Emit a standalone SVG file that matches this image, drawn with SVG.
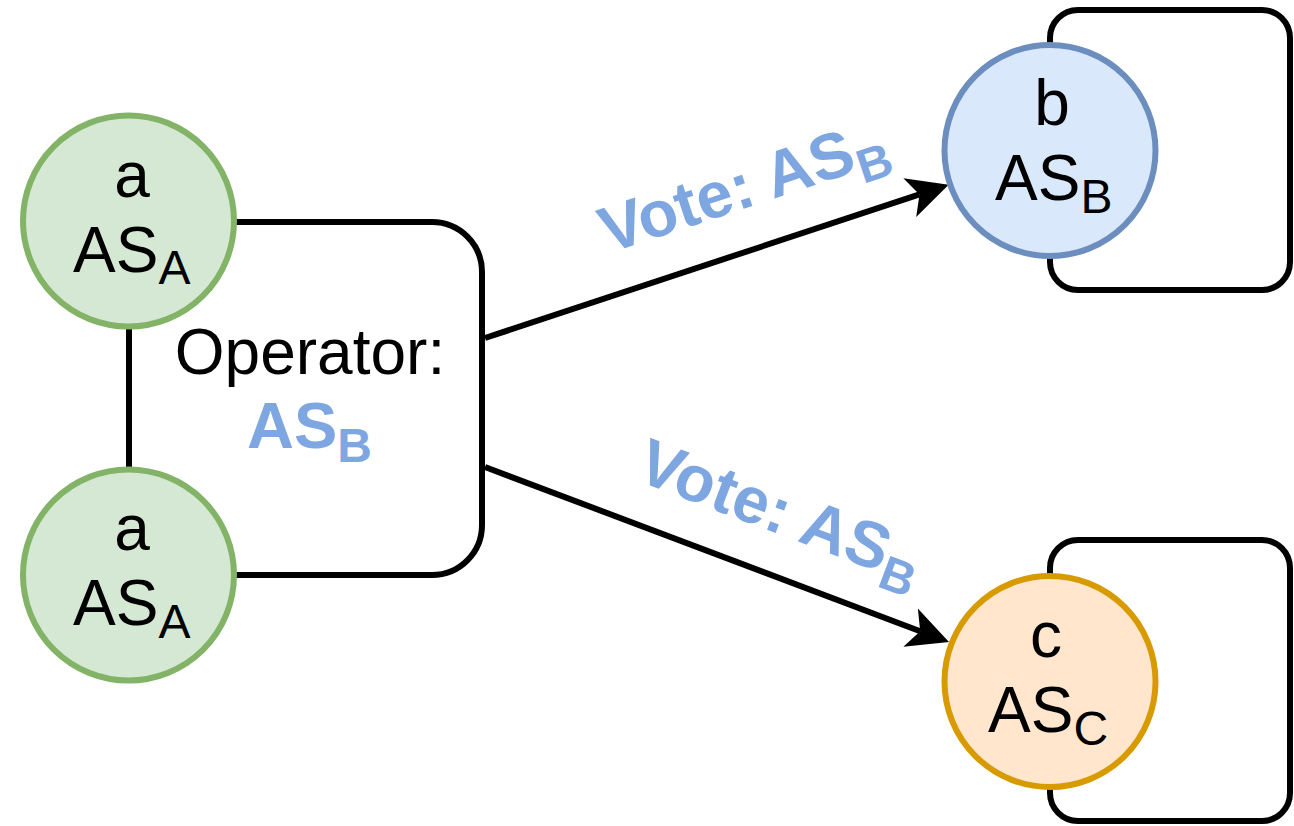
<svg xmlns="http://www.w3.org/2000/svg" width="1294" height="826" viewBox="0 0 1294 826">
  <style>
    text { font-family: "Liberation Sans", Arial, sans-serif; fill: #000000; }
    .big { font-size: 64px; }
    .sub { font-size: 48px; }
    .lbl { font-size: 65px; font-weight: bold; fill: #7ea6e0; }
    .lbl .sub { font-size: 48px; }
    .edge { fill: none; stroke: #000000; stroke-width: 6; }
    .green { fill: #d5e8d4; stroke: #82b366; stroke-width: 6; }
    .blue { fill: #dae8fc; stroke: #6c8ebf; stroke-width: 6; }
    .orange { fill: #ffe6cc; stroke: #d79b00; stroke-width: 6; }
  </style>
  <defs>
    <!-- classic arrowhead; reference point sits in the notch -->
    <marker id="arrow" markerUnits="userSpaceOnUse" orient="auto" refX="0" refY="0" markerWidth="60" markerHeight="60" overflow="visible">
      <path d="M30.75,0 L-10.25,-20.5 L0,0 L-10.25,20.5 Z" fill="#000000"/>
    </marker>
  </defs>

  <rect width="1294" height="826" fill="#ffffff"/>

  <!-- operator box enclosing both a nodes -->
  <g id="node-operator">
    <rect x="129" y="222" width="353" height="353" rx="50" ry="50" fill="#ffffff" stroke="#000000" stroke-width="6"/>
    <text class="big" x="310" y="374" text-anchor="middle">Operator:</text>
    <text class="lbl" x="247" y="448">AS<tspan class="sub" dy="14">B</tspan></text>
  </g>

  <g id="connectors">
    <!-- self loops on b and c -->
    <path class="edge" d="M1050,60 V38 A28,28 0 0 1 1078,10 H1262 A28,28 0 0 1 1290,38 V262 A28,28 0 0 1 1262,290 H1078 A28,28 0 0 1 1050,262 V240"/>
    <path class="edge" d="M1050,590 V568 A28,28 0 0 1 1078,540 H1262 A28,28 0 0 1 1290,568 V793 A28,28 0 0 1 1262,821 H1078 A28,28 0 0 1 1050,793 V770"/>
    <!-- votes -->
    <line class="edge" x1="485" y1="338" x2="919.5" y2="194.4" marker-end="url(#arrow)"/>
    <line class="edge" x1="485" y1="467" x2="920.2" y2="631.2" marker-end="url(#arrow)"/>
    <text class="lbl" transform="translate(608.5,253.5) rotate(-18.3)">Vote: AS<tspan class="sub" dy="14">B</tspan></text>
    <text class="lbl" transform="translate(634,479.5) rotate(20.7)">Vote: AS<tspan class="sub" dy="14">B</tspan></text>
  </g>

  <g id="node-a-top">
    <circle class="green" cx="128.5" cy="221" r="105.5"/>
    <text class="big" x="132" y="197" text-anchor="middle">a</text>
    <text class="big" x="73" y="272">AS<tspan class="sub" dy="12">A</tspan></text>
  </g>

  <g id="node-a-bottom">
    <circle class="green" cx="128.5" cy="575" r="105.5"/>
    <text class="big" x="132" y="550" text-anchor="middle">a</text>
    <text class="big" x="73" y="625">AS<tspan class="sub" dy="13">A</tspan></text>
  </g>

  <g id="node-b">
    <circle class="blue" cx="1050" cy="150.5" r="105.5"/>
    <text class="big" x="1052" y="125" text-anchor="middle">b</text>
    <text class="big" x="995" y="200">AS<tspan class="sub" dy="13">B</tspan></text>
  </g>

  <g id="node-c">
    <circle class="orange" cx="1050" cy="681.5" r="105.5"/>
    <text class="big" x="1046" y="657" text-anchor="middle">c</text>
    <text class="big" x="988" y="732">AS<tspan class="sub" dy="13">C</tspan></text>
  </g>
</svg>
